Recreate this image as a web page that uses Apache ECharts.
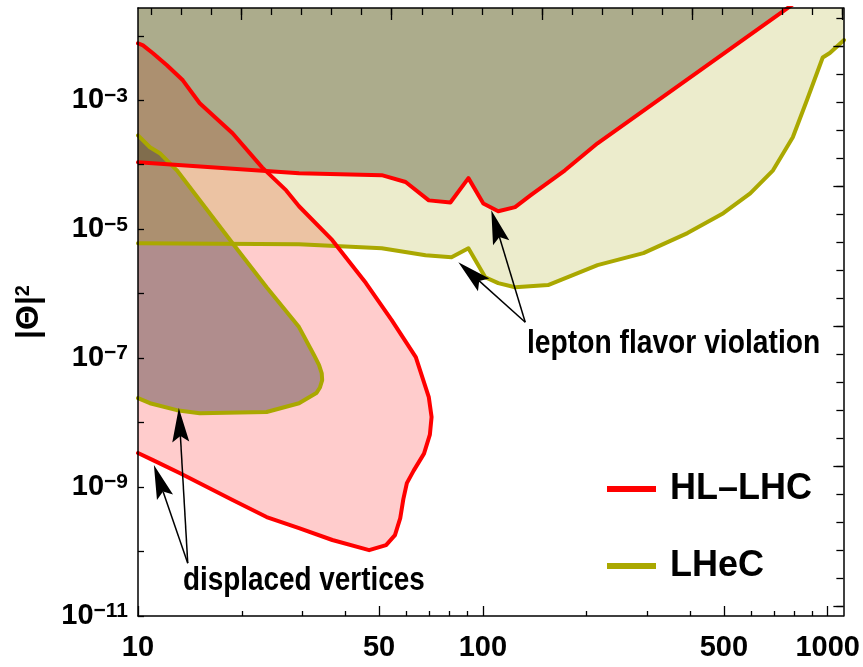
<!DOCTYPE html>
<html><head><meta charset="utf-8">
<script src="https://cdn.jsdelivr.net/npm/echarts@6/dist/echarts.min.js"></script>
<style>html,body{margin:0;padding:0;background:#fff}#c{width:863px;height:667px}</style>
</head><body><div id="c"></div>
<script>
const FONT = '"Liberation Sans Narrow","Liberation Sans",Arial,sans-serif';

// ---------- tick values ----------
const xTickMajor = [10, 50, 100, 500, 1000];
const xTickMinor = [20, 30, 40, 60, 70, 80, 90, 200, 300, 400, 600, 700, 800, 900];
const yTicks = [1e-11, 1e-10, 1e-9, 1e-8, 1e-7, 1e-6, 1e-5, 1e-4, 1e-3, 1e-2];
const yLabelTicks = [1e-11, 1e-9, 1e-7, 1e-5, 1e-3];
const topTickMinor = [2,3,4,5,6,7,8,9,10,11,12,13,14,15,16,17,18,19,20,21,22,23,24,25];
const topTickMajor = [5, 10, 15, 20, 25];
const rightTickMinor = [5,6,7,8,9,10,11,12,13,14,15,16,17,18,19,20,21,22,23,24,25,26];
const rightTickMajor = [5, 10, 15, 20, 25];

// ---------- data (mass, |Theta|^2) ----------
const hlLfv = [[10,1.09e-4],[29.3,7.4e-5],[50.9,6.9e-5],[59.7,5.4e-5],[69.7,2.8e-5],[80.5,2.6e-5],
  [90.8,6.2e-5],[100.3,2.5e-5],[110.8,1.9e-5],[124,2.2e-5],[138,3.4e-5],[173,8.2e-5],[215,2.15e-4],[870,4.4e-2]];
const heLfv = [[10,6.07e-6],[29.3,5.85e-6],[50.9,5.07e-6],[68.2,3.95e-6],[81.1,3.68e-6],[90.8,5.07e-6],
  [101.6,1.8e-6],[110.8,1.46e-6],[124,1.26e-6],[154.5,1.36e-6],[215,2.77e-6],[292,4.25e-6],[392,8.7e-6],
  [498,1.77e-5],[596,3.6e-5],[694,8.2e-5],[792,2.67e-4],[870,1.0e-3],[967,4.6e-3],[1014,5.4e-3],[1115,8.6e-3]];
const hlDv = [[10,7.66e-3],[10.34,7.1e-3],[11.05,5.36e-3],[12.13,3.49e-3],[13.49,2.04e-3],[15.1,8.98e-4],
  [18.8,3.08e-4],[22.9,9.1e-5],[26.9,4.0e-5],[29.3,2.27e-5],[36.6,6.75e-6],[45.8,1.46e-6],[54.4,3.88e-7],
  [63.9,1.04e-7],[69.7,2.48e-8],[71.0,1.22e-8],[70.2,6.5e-9],[67.5,3.3e-9],[63.0,1.8e-9],[60.2,1.15e-9],
  [58.8,6.5e-10],[57.6,3.3e-10],[55.6,1.8e-10],[52.4,1.26e-10],[46.8,1.05e-10],[36.6,1.51e-10],[29.3,2.31e-10],
  [23.6,3.43e-10],[18.8,6.29e-10],[13.2,1.65e-9],[11.05,2.62e-9],[10,3.37e-9]];
const heDv = [[10,2.86e-4],[10.83,1.87e-4],[11.57,1.51e-4],[12.96,8.2e-5],[15.1,2.82e-5],[18.8,6.07e-6],
  [23.6,1.26e-6],[29.3,3.03e-7],[32.4,1.11e-7],[33.5,7.8e-8],[34.1,5.8e-8],[34.2,4.56e-8],[33.7,3.5e-8],
  [32.9,2.87e-8],[29.3,2.0e-8],[23.6,1.46e-8],[15.1,1.40e-8],[12.96,1.56e-8],[10.83,2.0e-8],[10,2.4e-8]];

// annotation arrows: [start, tips]
const lfvArrowStart = [132.7, 3.6e-7];
const lfvArrowTips = [[105.8, 1.97e-5], [84.9, 3.08e-6]];
const dvArrowStart = [13.94, 6.6e-11];
const dvArrowTips = [[11.12, 2.19e-9], [13.13, 1.68e-8]];

const X_MIN = 10, X_MAX = 1110, Y_MIN = 1e-11, Y_MAX = 2.7e-2, Y_CAP = 1;

const RED = '#ff0000', OLIVE = '#aaa800';

function fillSeries(points, color, z) {
  return {
    type: 'custom', coordinateSystem: 'cartesian2d', xAxisIndex: 0, yAxisIndex: 0,
    clip: true, silent: true, z: z, data: [points[0]],
    renderItem: (params, api) => ({
      type: 'polygon',
      shape: { points: points.map(p => api.coord(p)) },
      style: { fill: color, stroke: null }
    })
  };
}
function lineSeries(name, data, color, z) {
  return {
    name, type: 'line', xAxisIndex: 0, yAxisIndex: 0, data, symbol: 'none', showSymbol: false,
    clip: true, silent: true, z: z, animation: false,
    lineStyle: { color, width: 4, join: 'round', cap: 'round' }, itemStyle: { color }
  };
}
function arrowSeries(start, tips) {
  return {
    type: 'custom', coordinateSystem: 'cartesian2d', xAxisIndex: 0, yAxisIndex: 0,
    silent: true, z: 20, data: tips,
    renderItem: (params, api) => {
      const tip = tips[params.dataIndex];
      const p0 = api.coord(start), p1 = api.coord(tip);
      const dx = p1[0] - p0[0], dy = p1[1] - p0[1];
      const L = Math.hypot(dx, dy), ux = dx / L, uy = dy / L;
      const HL = 34, HW = 8.5, N = 6;
      const bx = p1[0] - ux * HL, by = p1[1] - uy * HL;
      const nx = -uy, ny = ux;
      const notch = [bx + ux * N, by + uy * N];
      return { type: 'group', children: [
        { type: 'line', shape: { x1: p0[0], y1: p0[1], x2: notch[0], y2: notch[1] },
          style: { stroke: '#000', lineWidth: 1.5 } },
        { type: 'polygon', shape: { points: [p1, [bx + nx * HW, by + ny * HW], notch, [bx - nx * HW, by - ny * HW]] },
          style: { fill: '#000' } }
      ] };
    }
  };
}

// regions
const regionHlLfv = hlLfv.concat([[hlLfv[hlLfv.length - 1][0], Y_CAP], [X_MIN, Y_CAP]]);
const regionHeLfv = heLfv.concat([[heLfv[heLfv.length - 1][0], Y_CAP], [X_MIN, Y_CAP]]);

const axisLineStyle = { show: true, onZero: false, lineStyle: { color: '#000', width: 1.5 } };
const noSplit = { show: false };

const option = {
  animation: false,
  backgroundColor: '#fff',
  grid: { left: 138, right: 16, top: 8, bottom: 51, containLabel: false },
  xAxis: [
    { type: 'log', min: X_MIN, max: X_MAX, position: 'bottom', z: 30,
      axisLine: axisLineStyle, splitLine: noSplit, minorTick: { show: false },
      axisTick: { show: true, inside: true, length: 10, customValues: xTickMajor, lineStyle: { color: '#000', width: 1.3 } },
      axisLabel: { show: true, customValues: xTickMajor, margin: 17, color: '#000', fontFamily: FONT,
        fontWeight: 'bold', fontSize: 29, formatter: v => String(Math.round(v)) } },
    { type: 'log', min: X_MIN, max: X_MAX, position: 'bottom', z: 30,
      axisLine: { show: false }, splitLine: noSplit,
      axisTick: { show: true, inside: true, length: 5, customValues: xTickMinor, lineStyle: { color: '#000', width: 1.3 } },
      axisLabel: { show: false } },
    { type: 'value', min: 1.556, max: 25.03, position: 'top', z: 30,
      axisLine: axisLineStyle, splitLine: noSplit,
      axisTick: { show: true, inside: true, length: 7, customValues: topTickMinor, lineStyle: { color: '#000', width: 1.3 } },
      axisLabel: { show: false } },
    { type: 'value', min: 1.556, max: 25.03, position: 'top', z: 30,
      axisLine: { show: false }, splitLine: noSplit,
      axisTick: { show: true, inside: true, length: 12, customValues: topTickMajor, lineStyle: { color: '#000', width: 1.3 } },
      axisLabel: { show: false } }
  ],
  yAxis: [
    { type: 'log', min: Y_MIN, max: Y_MAX, position: 'left', z: 30,
      axisLine: axisLineStyle, splitLine: noSplit, minorTick: { show: false },
      axisTick: { show: true, inside: true, length: 6, customValues: yTicks, lineStyle: { color: '#000', width: 1.3 } },
      axisLabel: { show: true, customValues: yLabelTicks, margin: 10, color: '#000',
        formatter: v => '{b|10}{s|\u2212' + (-Math.round(Math.log10(v))) + '}',
        rich: {
          b: { fontFamily: FONT, fontWeight: 'bold', fontSize: 29, color: '#000', lineHeight: 30, verticalAlign: 'middle' },
          s: { fontFamily: FONT, fontWeight: 'bold', fontSize: 21, color: '#000', lineHeight: 30, verticalAlign: 'top', padding: [0, 0, 8, 0] }
        } },
      name: '{a||\u0398|}{s|2}', nameLocation: 'middle', nameRotate: 90, nameGap: 93,
      nameTextStyle: { rich: {
        a: { fontFamily: 'Liberation Sans', fontWeight: 'bold', fontSize: 32, color: '#000' },
        s: { fontFamily: 'Liberation Sans', fontWeight: 'bold', fontSize: 20, color: '#000', verticalAlign: 'top', padding: [0, 0, 12, 0] }
      } } },
    { type: 'value', min: 4.643, max: 26.36, position: 'right', z: 30,
      axisLine: axisLineStyle, splitLine: noSplit,
      axisTick: { show: true, inside: true, length: 7, customValues: rightTickMinor, lineStyle: { color: '#000', width: 1.3 } },
      axisLabel: { show: false } },
    { type: 'value', min: 4.643, max: 26.36, position: 'right', z: 30,
      axisLine: { show: false }, splitLine: noSplit,
      axisTick: { show: true, inside: true, length: 10, customValues: rightTickMajor, lineStyle: { color: '#000', width: 1.3 } },
      axisLabel: { show: false } }
  ],
  legend: {
    orient: 'vertical', left: 602, top: 464, itemWidth: 49, itemHeight: 6, itemGap: 37,
    icon: 'rect',
    data: ['HL\u2013LHC', 'LHeC'], selectedMode: false,
    textStyle: { fontFamily: FONT, fontWeight: 'bold', fontSize: 36, lineHeight: 40, color: '#000', padding: [0, 0, 0, 9] }
  },
  graphic: [
    { type: 'text', x: 527, y: 344, scaleX: 0.83, z: 50, silent: true,
      style: { text: 'lepton flavor violation', font: 'bold 34px ' + FONT, fill: '#000', align: 'left', verticalAlign: 'middle' } },
    { type: 'text', x: 183, y: 581, scaleX: 0.82, z: 50, silent: true,
      style: { text: 'displaced vertices', font: 'bold 34px ' + FONT, fill: '#000', align: 'left', verticalAlign: 'middle' } }
  ],
  series: [
    fillSeries(hlDv, 'rgba(255,0,0,0.2)', 2),
    fillSeries(regionHlLfv, 'rgba(0,0,0,0.31)', 2),
    fillSeries(heDv, 'rgba(0,0,0,0.31)', 2),
    fillSeries(regionHeLfv, 'rgba(160,160,0,0.2)', 2),
    lineSeries('LHeC', heLfv, OLIVE, 5),
    lineSeries('LHeC', heDv, OLIVE, 5),
    lineSeries('HL\u2013LHC', hlLfv, RED, 6),
    lineSeries('HL\u2013LHC', hlDv, RED, 6),
    arrowSeries(lfvArrowStart, lfvArrowTips),
    arrowSeries(dvArrowStart, dvArrowTips)
  ]
};

const chart = echarts.init(document.getElementById('c'), null, { renderer: 'canvas' });
chart.setOption(option);
</script></body></html>
